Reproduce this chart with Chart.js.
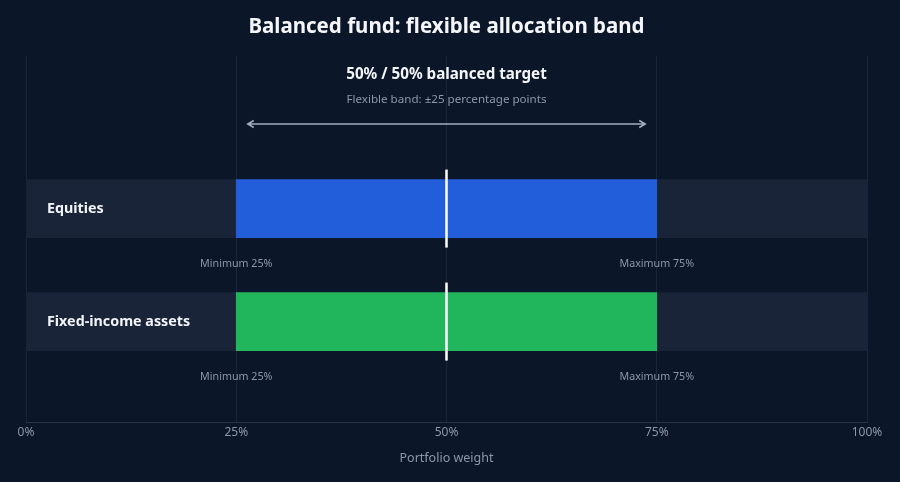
<!DOCTYPE html>
<html>
<head>
<meta charset="utf-8">
<script src="https://cdn.jsdelivr.net/npm/chart.js@4/dist/chart.umd.min.js"></script>
<style>
    html, body { margin: 0; padding: 0; background: #0b1628; }
    #wrap { width: 900px; height: 482px; position: relative; }
</style>
</head>
<body>
<div id="wrap"><canvas id="bandChart"></canvas></div>
<script>
const categories = ['Equities', 'Fixed-income assets'];
const bandMin = [25, 25];
const bandMax = [75, 75];
const targetWeight = [50, 50];
const xTicks = [0, 25, 50, 75, 100];
const barColors = ['#225eda', '#22b65c'];

const FONT = "'Noto Sans', 'Open Sans', sans-serif";

// white target marker, min/max notes, labels in the track, top note + arrow
const bandNotes = {
    id: 'bandNotes',
    afterDatasetsDraw(chart) {
        const c = chart.ctx;
        const x = chart.scales.x;
        const y = chart.scales.y;
        const half = 29;
        c.save();
        categories.forEach((name, i) => {
            const yc = y.getPixelForValue(i);
            const xt = x.getPixelForValue(targetWeight[i]);
            c.strokeStyle = '#ffffff';
            c.lineWidth = 2.5;
            c.beginPath();
            c.moveTo(xt, yc - half - 10);
            c.lineTo(xt, yc + half + 10);
            c.stroke();

            c.fillStyle = '#f1f4f9';
            c.font = 'bold 14.3px ' + FONT;
            c.textAlign = 'left';
            c.textBaseline = 'middle';
            c.fillText(name, x.getPixelForValue(0) + 21, yc);

            c.fillStyle = '#8d97a8';
            c.font = '10.7px ' + FONT;
            c.textAlign = 'center';
            c.fillText('Minimum ' + bandMin[i] + '%', x.getPixelForValue(bandMin[i]), yc + half + 26);
            c.fillText('Maximum ' + bandMax[i] + '%', x.getPixelForValue(bandMax[i]), yc + half + 26);
        });

        const xm = x.getPixelForValue(targetWeight[0]);
        c.fillStyle = '#f4f6fa';
        c.font = 'bold 15.2px ' + FONT;
        c.textAlign = 'center';
        c.textBaseline = 'middle';
        c.fillText(targetWeight[0] + '% / ' + (100 - targetWeight[0]) + '% balanced target', xm, 75);
        c.fillStyle = '#8d97a8';
        c.font = '11.6px ' + FONT;
        c.fillText('Flexible band: \u00b1' + (targetWeight[0] - bandMin[0]) + ' percentage points', xm, 100);

        const x1 = x.getPixelForValue(bandMin[0]) + 11.5;
        const x2 = x.getPixelForValue(bandMax[0]) - 11.5;
        const ya = 124;
        c.strokeStyle = '#a3adbd';
        c.lineWidth = 1.5;
        c.beginPath();
        c.moveTo(x1, ya);
        c.lineTo(x2, ya);
        c.moveTo(x1 + 6, ya - 3.5);
        c.lineTo(x1, ya);
        c.lineTo(x1 + 6, ya + 3.5);
        c.moveTo(x2 - 6, ya - 3.5);
        c.lineTo(x2, ya);
        c.lineTo(x2 - 6, ya + 3.5);
        c.stroke();
        c.restore();
    }
};

document.addEventListener('DOMContentLoaded', function () {
    const ctx = document.getElementById('bandChart').getContext('2d');

    new Chart(ctx, {
        type: 'bar',
        data: {
            datasets: [{
                label: 'Allowed band',
                data: categories.map((name, i) => ({ x: [bandMin[i], bandMax[i]], y: i })),
                backgroundColor: barColors,
                borderWidth: 0,
                barThickness: 58,
                grouped: false,
                order: 0
            }, {
                label: 'Full range',
                data: categories.map((name, i) => ({ x: [xTicks[0], xTicks[xTicks.length - 1]], y: i })),
                backgroundColor: '#1a2439',
                borderWidth: 0,
                barThickness: 58,
                grouped: false,
                order: 1
            }]
        },
        options: {
            indexAxis: 'y',
            responsive: true,
            maintainAspectRatio: false,
            animation: false,
            layout: { padding: { left: 26, right: 33, top: 0, bottom: 8 } },
            plugins: {
                legend: { display: false },
                tooltip: { enabled: false },
                title: {
                    display: true,
                    text: 'Balanced fund: flexible allocation band',
                    color: '#f4f6fa',
                    font: { family: FONT, size: 20.5, weight: 'bold' },
                    padding: { top: 15, bottom: 16 }
                }
            },
            scales: {
                x: {
                    type: 'linear',
                    min: 0,
                    max: 100,
                    afterBuildTicks: axis => { axis.ticks = xTicks.map(v => ({ value: v })); },
                    ticks: {
                        color: '#8d97a8',
                        font: { family: FONT, size: 12 },
                        padding: 3,
                        callback: value => value + '%'
                    },
                    grid: { color: '#19253a', drawTicks: false },
                    border: { color: '#2a3548' },
                    title: {
                        display: true,
                        text: 'Portfolio weight',
                        color: '#8d97a8',
                        font: { family: FONT, size: 12.5 },
                        padding: { top: 8, bottom: 8 }
                    }
                },
                y: {
                    type: 'linear',
                    display: false,
                    reverse: true,
                    offset: false,
                    min: -1.354,
                    max: 1.894
                }
            }
        },
        plugins: [bandNotes]
    });
});
</script>
</body>
</html>
